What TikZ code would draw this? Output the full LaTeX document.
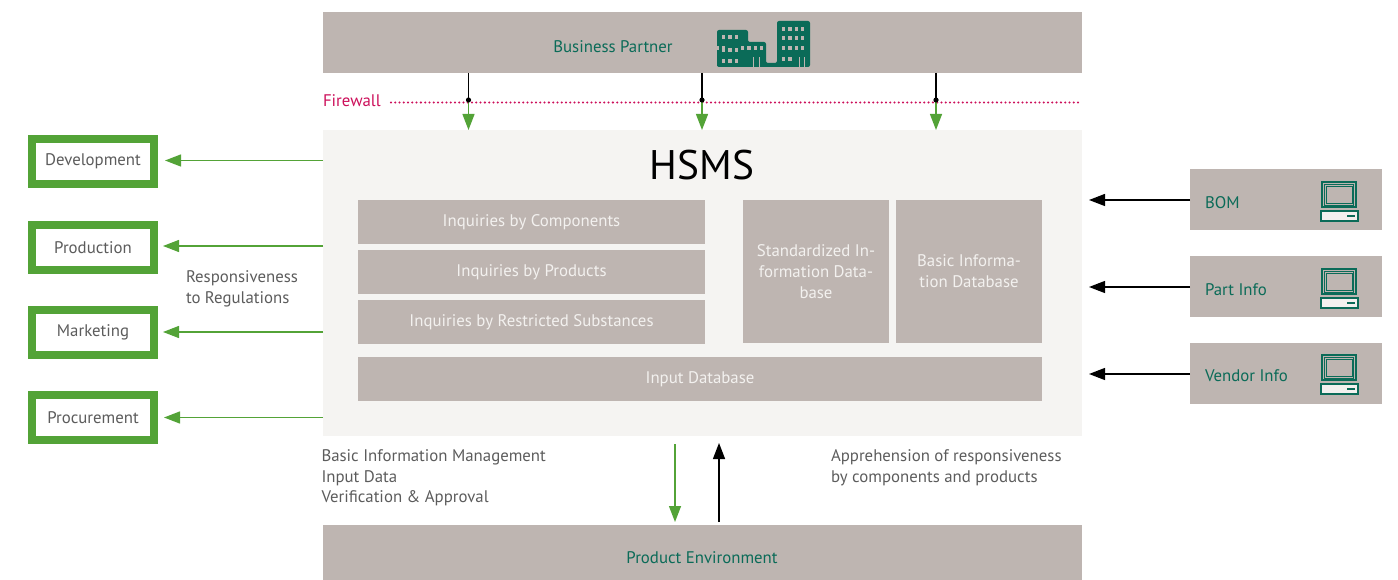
\documentclass[tikz,border=0pt]{standalone}
\usepackage{fontspec}
\setmainfont{PT Sans}
\usetikzlibrary{arrows.meta,calc}
\definecolor{gr}{HTML}{53A337}
\definecolor{tg}{HTML}{0B6B58}
\definecolor{bx}{HTML}{BEB5B1}
\definecolor{lt}{HTML}{F5F4F2}
\definecolor{fw}{HTML}{CC0F5A}
\definecolor{tx}{HTML}{5C5C5C}
\definecolor{wh}{HTML}{F3F1EF}
\tikzset{
 x=0.75pt,y=-0.75pt,
 every node/.style={inner sep=0pt,outer sep=0pt,font=\fontsize{12.6}{15.6}\selectfont},
 band/.style={fill=bx,anchor=north west,text=tg,draw=none},
 inner/.style={fill=bx,anchor=north west,text=wh,align=center,draw=none},
 dept/.style={draw=gr,line width=6pt,fill=white,text=tx,anchor=center,minimum width=91.5pt,minimum height=33.75pt},
 lab/.style={text=tx,align=left,anchor=north west},
 gtip/.style={-{Triangle[length=12pt,width=9pt]},draw=gr,line width=1pt},
 ktip/.style={-{Triangle[length=12pt,width=9pt]},draw=black,line width=1pt},
 dotline/.style={draw=fw,line width=1.7pt,line cap=round,dash pattern=on 0pt off 3.2pt},
}
\newcommand{\wins}[4]{\foreach \i in {1,...,#3}{\fill[bx] ({#1+(\i-1)*6.3},#2) rectangle +(3.2,#4);}}
\begin{document}
\begin{tikzpicture}
\useasboundingbox (0,0) rectangle (1398,580);
% bands
\node[band,minimum width=569.25pt,minimum height=45.75pt] (bp) at (323,12) {};
\node[text=tg] (bpt) at (613,46.5) {Business Partner};
\node[fill=lt,anchor=north west,minimum width=569.25pt,minimum height=229.5pt] (hsms) at (323,130) {};
\node[font=\fontsize{31}{36}\selectfont,text=black] (hsmst) at (702,165) {HSMS};
\node[band,minimum width=569.25pt,minimum height=41.25pt] (pe) at (323,525) {};
\node[text=tg] (pet) at (702,558) {Product Environment};
% inner
\node[inner,minimum width=260.25pt,minimum height=33pt] (i1) at (358,200) {Inquiries by Components};
\node[inner,minimum width=260.25pt,minimum height=33pt] (i2) at (358,250) {Inquiries by Products};
\node[inner,minimum width=260.25pt,minimum height=33pt] (i3) at (358,300) {Inquiries by Restricted Substances};
\node[inner,minimum width=109.5pt,minimum height=107.25pt] (s1) at (743,200) {Standardized In-\\formation Data-\\base};
\node[inner,minimum width=109.5pt,minimum height=107.25pt] (s2) at (896,200) {Basic Informa-\\tion Database};
\node[inner,minimum width=513pt,minimum height=33pt] (inp) at (358,357) {Input Database};
% depts
\node[dept] (d1) at (93,161.5) {Development};
\node[dept] (d2) at (93,247.5) {Production};
\node[dept] (d3) at (93,332.5) {Marketing};
\node[dept] (d4) at (93,417.5) {Procurement};
% right
\node[band,minimum width=144pt,minimum height=45.75pt] (r1) at (1190,169) {};
\node[band,minimum width=144pt,minimum height=45.75pt] (r2) at (1190,256) {};
\node[band,minimum width=144pt,minimum height=45.75pt] (r3) at (1190,343) {};
\node[text=tg,anchor=west] (r1t) at (1205,203) {BOM};
\node[text=tg,anchor=west] (r2t) at (1205,290) {Part Info};
\node[text=tg,anchor=west] (r3t) at (1205,376) {Vendor Info};
\foreach \yy in {169,256,343}{
 \begin{scope}[shift={(0,\yy*0.75pt)},yshift={-2*\yy*0.75pt}]
 \end{scope}
}
% computers
\foreach \yy in {169,256,342}{
 \draw[tg,line width=1.9pt] (1322,\yy+13) rectangle (1356,\yy+38);
 \draw[tg,line width=0.7pt] (1326,\yy+17) rectangle (1352,\yy+34);
 \draw[tg,line width=0.7pt] (1324.5,\yy+15) rectangle (1353.5,\yy+36);
 \draw[tg,line width=1.7pt,fill=wh] (1321,\yy+42) rectangle (1358,\yy+52);
 \fill[tg] (1347,\yy+46) rectangle (1355,\yy+48);
}
% buildings
\fill[tg,rounded corners=1.5pt] (717,67) |- (748,30) |- (766,42) |- (777,63) |- (810,21) |- cycle;
\foreach \yy/\n in {35/3,48/3,59/3}{\wins{722}{\yy}{\n}{4.5}}
\wins{722}{46}{0}{4}
\wins{741}{46}{4}{4.5}
\foreach \yy in {27,36,46}{\wins{782}{\yy}{4}{4.5}}
\wins{782}{57}{2}{4.5}
\fill[bx] (753,57) rectangle +(1,10);
\fill[bx] (758.5,57) rectangle +(1,10);
\fill[bx] (799,57) rectangle +(1,10);
\fill[bx] (804,57) rectangle +(1,10);
% firewall
\node[text=fw,anchor=west] (fwt) at (323,101) {Firewall};
\coordinate (fa) at (391,102.5);
\coordinate (fb) at (1082,102.5);
\draw[dotline] (fa) -- (fb);
% top arrows
\foreach \xx/\nm in {468.5/a,702/b,936/c}{
 \coordinate (j\nm) at (\xx,100);
 \draw[gtip] (j\nm) -- (j\nm |- hsms.north);
 \draw[black,line width=1pt] (j\nm |- bp.south) -- (j\nm);
 \fill[black] (j\nm) circle (2.6);
}
% left arrows
\draw[gtip] (hsms.west |- 0,160.5) -- (165,160.5) coordinate (ad);
\draw[gtip] (hsms.west |- 0,246) -- (163,246);
\draw[gtip] (hsms.west |- 0,332) -- (163,332);
\draw[gtip] (hsms.west |- 0,417.5) -- (164,417.5);
% right arrows
\draw[ktip] (r1.west |- 0,200) -- (1089,200);
\draw[ktip] (r2.west |- 0,287) -- (1089,287);
\draw[ktip] (r3.west |- 0,374) -- (1089,374);
% bottom arrows
\coordinate (bg) at (675,444);
\coordinate (bk) at (719,522);
\draw[gtip] (bg) -- (675,522);
\draw[ktip] (bk) -- (719,443);
% labels
\node[lab] (l1) at (186,270.5) {Responsiveness\\to Regulations};
\node[lab] (l2) at (321.5,449.5) {Basic Information Management\\Input Data\\Verification \& Approval};
\node[lab] (l3) at (831,449.5) {Apprehension of responsiveness\\by components and products};
\end{tikzpicture}
\end{document}
